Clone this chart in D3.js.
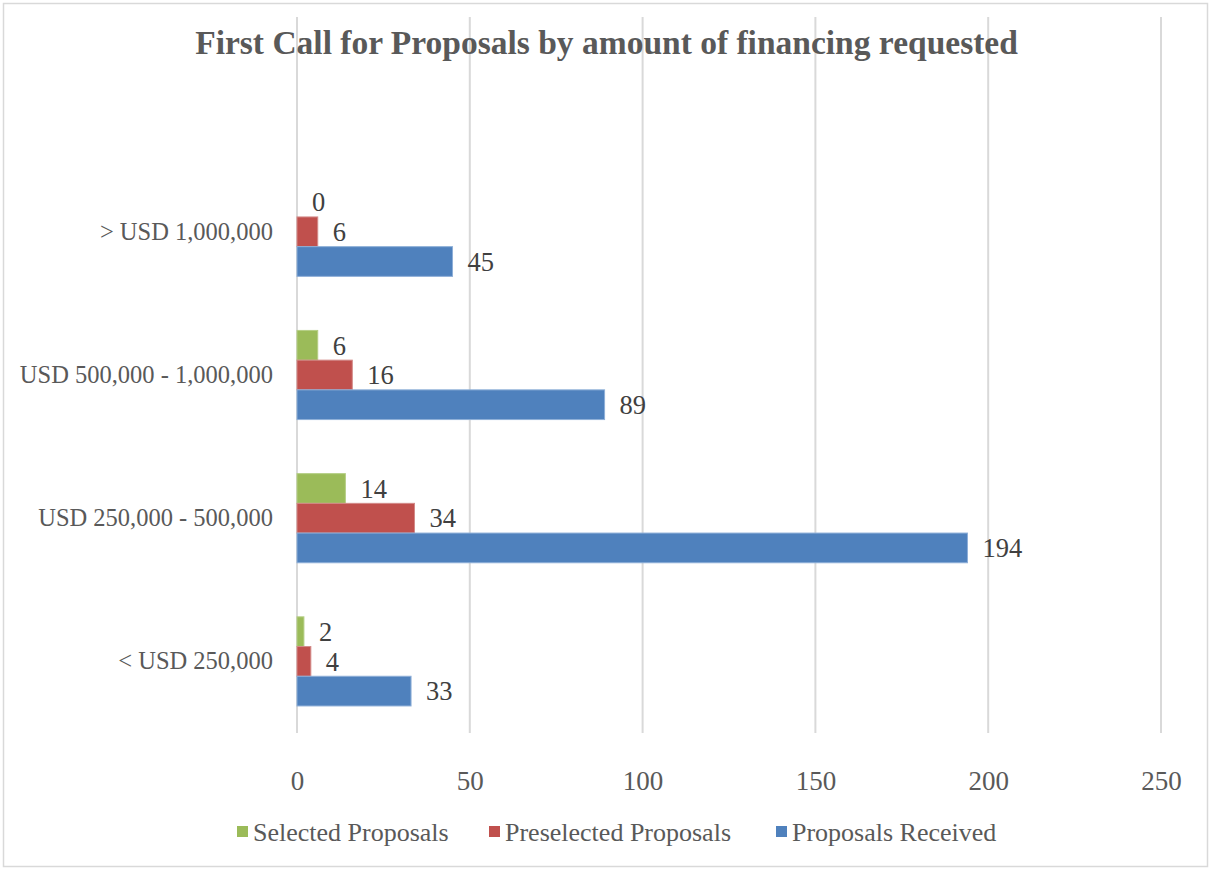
<!DOCTYPE html>
<html>
<head>
<meta charset="utf-8">
<script src="https://cdn.jsdelivr.net/npm/d3@7"></script>
<style>
  body { margin: 0; background: #fff; }
  text { font-family: "Liberation Serif", serif; }
</style>
</head>
<body>
<script>
// chart data
var categories = ['', '> USD 1,000,000', 'USD 500,000 - 1,000,000', 'USD 250,000 - 500,000', '< USD 250,000'];
var seriesNames = ['Selected Proposals', 'Preselected Proposals', 'Proposals Received'];
var selected    = [null, 0, 6, 14, 2];
var preselected = [null, 6, 16, 34, 4];
var received    = [null, 45, 89, 194, 33];
var tickValues  = [0, 50, 100, 150, 200, 250];
var colors = ['#9BBB59', '#C0504D', '#4F81BD'];
var strokes = ['#B5CE85', '#D38A88', '#8EAFD8'];

var wW = 1213, wH = 869;
var plot = { left: 297, right: 1161, top: 17, bottom: 733 };

var svg = d3.select('body').append('svg')
  .attr('width', wW)
  .attr('height', wH);

// chart border
svg.append('rect')
  .attr('x', 3.5).attr('y', 3.5)
  .attr('width', 1204).attr('height', 863)
  .attr('fill', '#fff')
  .attr('stroke', '#d9d9d9')
  .attr('stroke-width', 1.5);

var x = d3.scaleLinear().domain([0, 250]).range([plot.left, plot.right]);
var y = d3.scaleBand().domain(categories).range([plot.top, plot.bottom]).padding(0);
// Excel default gap width 182%
var ySub = d3.scaleBand().domain(seriesNames).range([0, y.bandwidth()])
  .paddingInner(0).paddingOuter(0.91);

// gridlines
svg.append('g')
  .selectAll('line')
  .data(tickValues)
  .join('line')
  .attr('x1', d => x(d)).attr('x2', d => x(d))
  .attr('y1', plot.top).attr('y2', plot.bottom)
  .attr('stroke', '#d9d9d9')
  .attr('stroke-width', 2);

// x axis labels
var xAxis = svg.append('g')
  .attr('transform', 'translate(0,' + plot.bottom + ')')
  .call(d3.axisBottom(x).tickValues(tickValues).tickSize(0).tickPadding(38));
xAxis.select('.domain').remove();
xAxis.selectAll('text')
  .attr('font-family', 'Liberation Serif')
  .attr('font-size', 27)
  .attr('fill', '#595959');

// y axis labels
var yAxis = svg.append('g')
  .attr('transform', 'translate(' + plot.left + ',0)')
  .call(d3.axisLeft(y).tickSize(0).tickPadding(24));
yAxis.select('.domain').remove();
yAxis.selectAll('text')
  .attr('font-family', 'Liberation Serif')
  .attr('font-size', 24.5)
  .attr('fill', '#595959');

// bars
var allSeries = [selected, preselected, received];
allSeries.forEach((values, si) => {
  var rows = categories.map((c, i) => ({ cat: c, value: values[i] }))
    .filter(d => d.value != null);
  var g = svg.append('g');
  g.selectAll('rect')
    .data(rows)
    .join('rect')
    .attr('x', x(0))
    .attr('y', d => y(d.cat) + ySub(seriesNames[si]))
    .attr('width', d => x(d.value) - x(0))
    .attr('height', ySub.bandwidth())
    .attr('fill', colors[si])
    .attr('stroke', d => d.value > 0 ? strokes[si] : 'none')
    .attr('stroke-width', 1);
  g.selectAll('text')
    .data(rows)
    .join('text')
    .attr('x', d => x(d.value) + 15)
    .attr('y', d => y(d.cat) + ySub(seriesNames[si]) + ySub.bandwidth() / 2)
    .attr('dy', '0.35em')
    .attr('font-size', 26.5)
    .attr('fill', '#404040')
    .text(d => d.value);
});

// title
svg.append('text')
  .attr('x', wW / 2)
  .attr('y', 54)
  .attr('text-anchor', 'middle')
  .attr('font-size', 33.5)
  .attr('font-weight', 'bold')
  .attr('fill', '#595959')
  .text('First Call for Proposals by amount of financing requested');

// legend
var legendX = [237, 489, 776];
var legend = svg.append('g');
seriesNames.forEach((name, i) => {
  legend.append('rect')
    .attr('x', legendX[i]).attr('y', 826)
    .attr('width', 11).attr('height', 11)
    .attr('fill', colors[i]);
  legend.append('text')
    .attr('x', legendX[i] + 16).attr('y', 832)
    .attr('dy', '0.35em')
    .attr('font-size', 26)
    .attr('fill', '#595959')
    .text(name);
});
</script>
</body>
</html>
